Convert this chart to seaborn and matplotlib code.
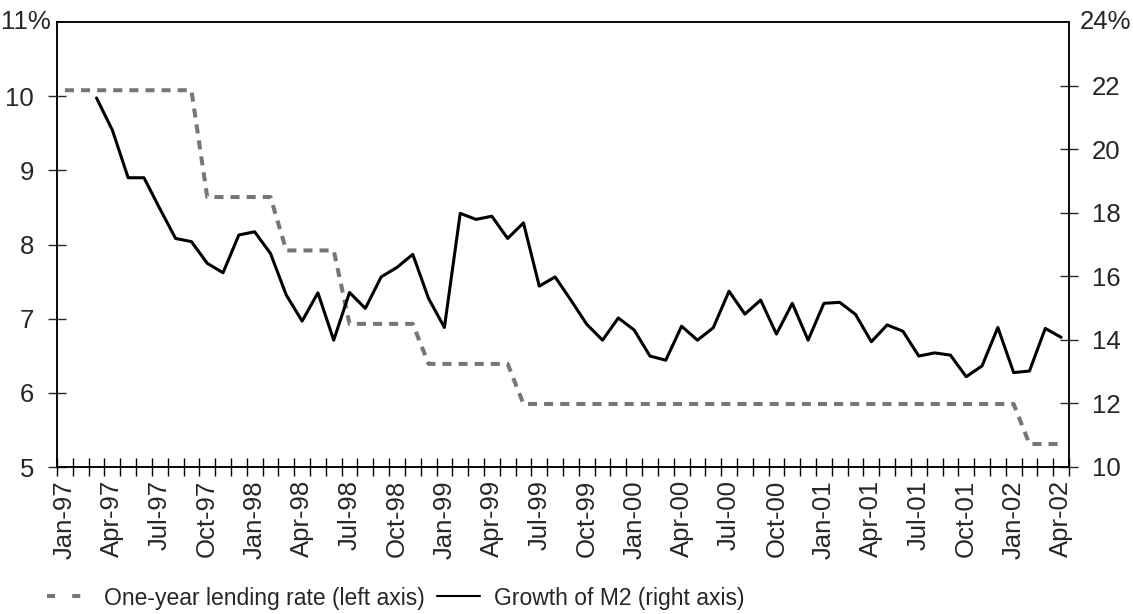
import matplotlib
matplotlib.use("Agg")
import numpy as np
import pandas as pd
import seaborn as sns
import matplotlib.pyplot as plt
from matplotlib.lines import Line2D
from matplotlib.ticker import FixedLocator

# ---- data ----
months = list(pd.date_range("1997-01-01", "2002-04-01", freq="MS").strftime("%b-%y"))

lending_rate = ([10.08] * 9 + [8.64] * 5 + [7.92] * 4 + [6.93] * 5 +
                [6.39] * 6 + [5.85] * 32 + [5.31] * 3)

m2_growth = [np.nan, np.nan,
             21.61, 20.60, 19.10, 19.10, 18.13, 17.19, 17.09, 16.41, 16.11, 17.30,
             17.40, 16.72, 15.41, 14.59, 15.48, 13.99, 15.49, 14.99, 15.98, 16.28,
             16.69, 15.30, 14.39, 17.98, 17.79, 17.89, 17.19, 17.68, 15.69, 15.98,
             15.25, 14.49, 13.99, 14.69, 14.31, 13.49, 13.36, 14.43, 13.99, 14.38,
             15.53, 14.81, 15.25, 14.18, 15.15, 13.99, 15.15, 15.18, 14.80, 13.94,
             14.47, 14.27, 13.49, 13.59, 13.52, 12.84, 13.18, 14.39, 12.97, 13.02,
             14.36, 14.08]

label_rate = "One-year lending rate (left axis)"
label_m2 = "Growth of M2 (right axis)"

left_ticks = [5, 6, 7, 8, 9, 10]
right_ticks = [10, 12, 14, 16, 18, 20, 22]

# ---- style ----
sns.set_style("ticks")
plt.rcParams["font.family"] = ["Liberation Sans", "DejaVu Sans"]

FS = 18.5
W, H = 1133, 614
fig = plt.figure(figsize=(W / 100, H / 100), dpi=100)
L, R, T, B = 57, 1069, 22, 467
ax = fig.add_axes([L / W, 1 - B / H, (R - L) / W, (B - T) / H])

df_rate = pd.DataFrame({"idx": np.arange(len(months)), "rate": lending_rate})
df_m2 = pd.DataFrame({"idx": np.arange(len(months)), "m2": m2_growth}).dropna()

GRAY = "#767676"
sns.lineplot(data=df_rate, x="idx", y="rate", ax=ax, color=GRAY, lw=2.9, legend=False)
ax.lines[0].set_dashes((2.25, 1.75))

ax2 = ax.twinx()
sns.lineplot(data=df_m2, x="idx", y="m2", ax=ax2, color="black", lw=2.2, legend=False)

ax.set_xlim(-0.5, len(months) - 0.5)
ax.set_ylim(5, 11)
ax2.set_ylim(10, 24)
for a in (ax, ax2):
    a.set_xlabel("")
    a.set_ylabel("")
    for s in a.spines.values():
        s.set_visible(True)
        s.set_color("black")
        s.set_linewidth(1.1)

# x axis
ax.xaxis.set_major_locator(FixedLocator(list(range(0, len(months), 3))))
ax.set_xticklabels(months[::3], rotation=90, fontsize=FS)
ax.xaxis.set_minor_locator(FixedLocator(list(np.arange(-0.5, len(months), 1.0))))
ax.tick_params(axis="x", which="major", length=0, pad=9.5)
ax.tick_params(axis="x", which="minor", direction="inout", length=13, width=1, color="black")

# left y
ax.set_yticks(left_ticks)
ax.set_yticklabels([str(v) for v in left_ticks])
ax.tick_params(axis="y", direction="inout", length=13, width=1, pad=10, labelsize=FS,
               left=True, right=False)
ax.annotate("11%", xy=(0, 11), xycoords=("axes fraction", "data"),
            xytext=(-4.5, 0), textcoords="offset points", ha="right", va="center",
            fontsize=FS)

# right y
ax2.set_yticks(right_ticks)
ax2.set_yticklabels([str(v) for v in right_ticks])
ax2.tick_params(axis="y", direction="inout", length=13, width=1, pad=10, labelsize=FS,
                right=True, left=False)
ax2.annotate("24%", xy=(1, 24), xycoords=("axes fraction", "data"),
             xytext=(8, 0), textcoords="offset points", ha="left", va="center",
             fontsize=FS)

# legend
handles = [Line2D([], [], color=GRAY, lw=2.9, linestyle=(0, (2.0, 4.25))),
           Line2D([], [], color="black", lw=1.5)]
fig.legend(handles, [label_rate, label_m2], loc="center left",
           bbox_to_anchor=(47 / W, 1 - 598 / H), ncol=2, frameon=False,
           fontsize=16.5, handlelength=1.9, handletextpad=0.6, columnspacing=0.5,
           borderpad=0, borderaxespad=0)

fig.savefig("out.png", dpi=100)
